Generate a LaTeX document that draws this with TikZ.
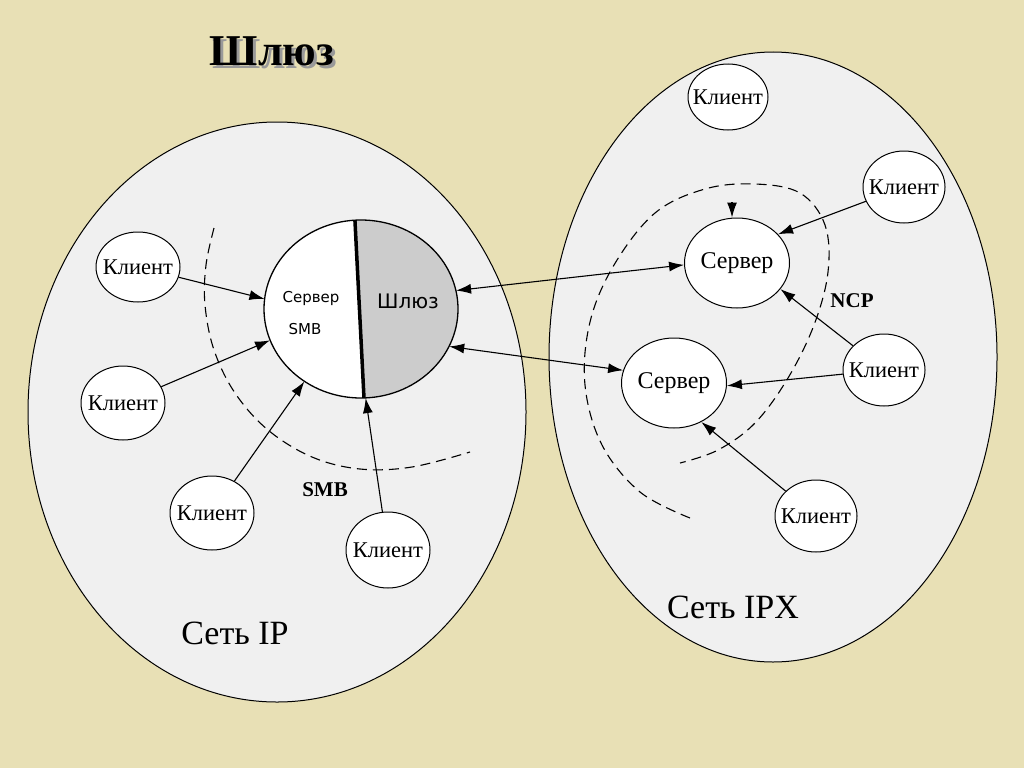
\documentclass[tikz,border=0pt]{standalone}
\usepackage{fontspec}
\setmainfont{Liberation Serif}
\newfontfamily\gwfont{DejaVu Sans}
\usetikzlibrary{shapes.geometric,arrows.meta}
\definecolor{bg}{RGB}{232,224,181}
\definecolor{netfill}{RGB}{240,240,240}
\definecolor{gwgray}{RGB}{204,204,204}
\tikzset{
  net/.style={draw=black, fill=netfill, line width=1pt},
  client/.style={ellipse, draw, fill=white, line width=1pt, inner ysep=0pt, inner xsep=-25pt,
    minimum width=82pt, minimum height=72pt, font=\fontsize{22.5}{22.5}\selectfont},
  server/.style={client, minimum width=105pt, minimum height=90pt, font=\fontsize{24}{24}\selectfont},
  link/.style={line width=1.1pt, -{Latex[length=15pt,width=10pt]}},
  dlink/.style={line width=1.1pt, {Latex[length=15pt,width=10pt]}-{Latex[length=15pt,width=10pt]}},
  dashedarc/.style={dash pattern=on 10pt off 6pt, line width=1.1pt},
  lbl/.style={font=\bfseries\fontsize{21}{21}\selectfont},
  netlbl/.style={font=\fontsize{34}{34}\selectfont},
}
\begin{document}
\begin{tikzpicture}[x=1pt,y=-1pt]
\fill[bg] (0,0) rectangle (1024,768);
\useasboundingbox (0,0) rectangle (1024,768);

% title with shadow
\node[font=\bfseries\fontsize{44}{44}\selectfont, inner sep=0pt] (title) at (272,53)
  {\makebox[0pt][l]{\hspace{3pt}\raisebox{-3pt}{\textcolor{black!40}{Шлюз}}}Шлюз};

% networks
\draw[net] (277,412) ellipse [x radius=249pt, y radius=290pt];
\draw[net] (773,357) ellipse [x radius=224pt, y radius=305pt];

% dashed protocol zones
\draw[dashedarc] plot[smooth, tension=0.6] coordinates {(214,228) (206,265) (205,305) (214,350) (235,393) (268,430) (312,457) (360,469) (412,467) (470,452)};
\draw[dashedarc] plot[smooth, tension=0.6] coordinates {(690,518) (640,492) (602,445) (585,385) (590,322) (614,265) (655,213) (705,189) (755,184) (800,193) (825,225) (828,272) (814,325) (788,378) (755,423) (718,450) (680,463)};

% gateway
\node[ellipse, minimum width=194pt, minimum height=178pt, inner sep=0pt, fill=white] (gw) at (361,309) {};
\begin{scope}
  \clip (361,309) ellipse [x radius=97pt, y radius=89pt];
  \fill[gwgray] (353.9,200) -- (364.6,410) -- (470,410) -- (470,200) -- cycle;
  \draw[line width=3.5pt] (353.9,200) -- (364.6,410);
\end{scope}
\draw[line width=1.3pt] (361,309) ellipse [x radius=97pt, y radius=89pt];
\node[font=\gwfont\fontsize{15}{15}\selectfont] (gwsrv) at (311,298) {Сервер};
\node[font=\gwfont\fontsize{15}{15}\selectfont] (gwsmb) at (305,329) {SMB};
\node[font=\gwfont\fontsize{20}{20}\selectfont] (gwgw) at (408,301) {Шлюз};

% IP clients
\node[client, minimum width=84pt, minimum height=70pt] (c1) at (138,267) {Клиент};
\node[client, minimum width=84pt, minimum height=74pt] (c2) at (123,403) {Клиент};
\node[client, minimum width=84pt, minimum height=74pt] (c3) at (212,513) {Клиент};
\node[client, minimum width=84pt, minimum height=76pt] (c4) at (388,550) {Клиент};

% IPX nodes
\node[client, minimum width=80pt, minimum height=66pt] (k1) at (728,97) {Клиент};
\node[client] (k2) at (904,187) {Клиент};
\node[client] (k3) at (884,370) {Клиент};
\node[client] (k4) at (816,516) {Клиент};
\node[server] (s1) at (737,263) {Сервер};
\node[server] (s2) at (674,383) {Сервер};

% links
\draw[link] (c1) -- (gw.174);
\draw[link] (c2) -- (gw.199);
\draw[link] (c3) -- (gw.232);
\draw[link] (c4) -- (gw.273);
\draw[dlink] (gw.11) -- (s1.182);
\draw[dlink] (gw.-23) -- (s2.166);
\draw[link] (k2) -- (s1.35);
\draw[link] (k3) -- (s1.-31);
\draw[link] (k3) -- (s2.-3);
\draw[link] (k4) -- (s2.-55);
\coordinate (ncptop) at (732,202);
\draw[link] (ncptop) -- (ncptop |- s1.north);

% labels
\node[lbl] (smb) at (325,490) {SMB};
\node[lbl] (ncp) at (852,301) {NCP};
\node[netlbl] (ip) at (235,633) {Сеть IP};
\node[netlbl] (ipx) at (733,607) {Сеть IPX};
\end{tikzpicture}
\end{document}
